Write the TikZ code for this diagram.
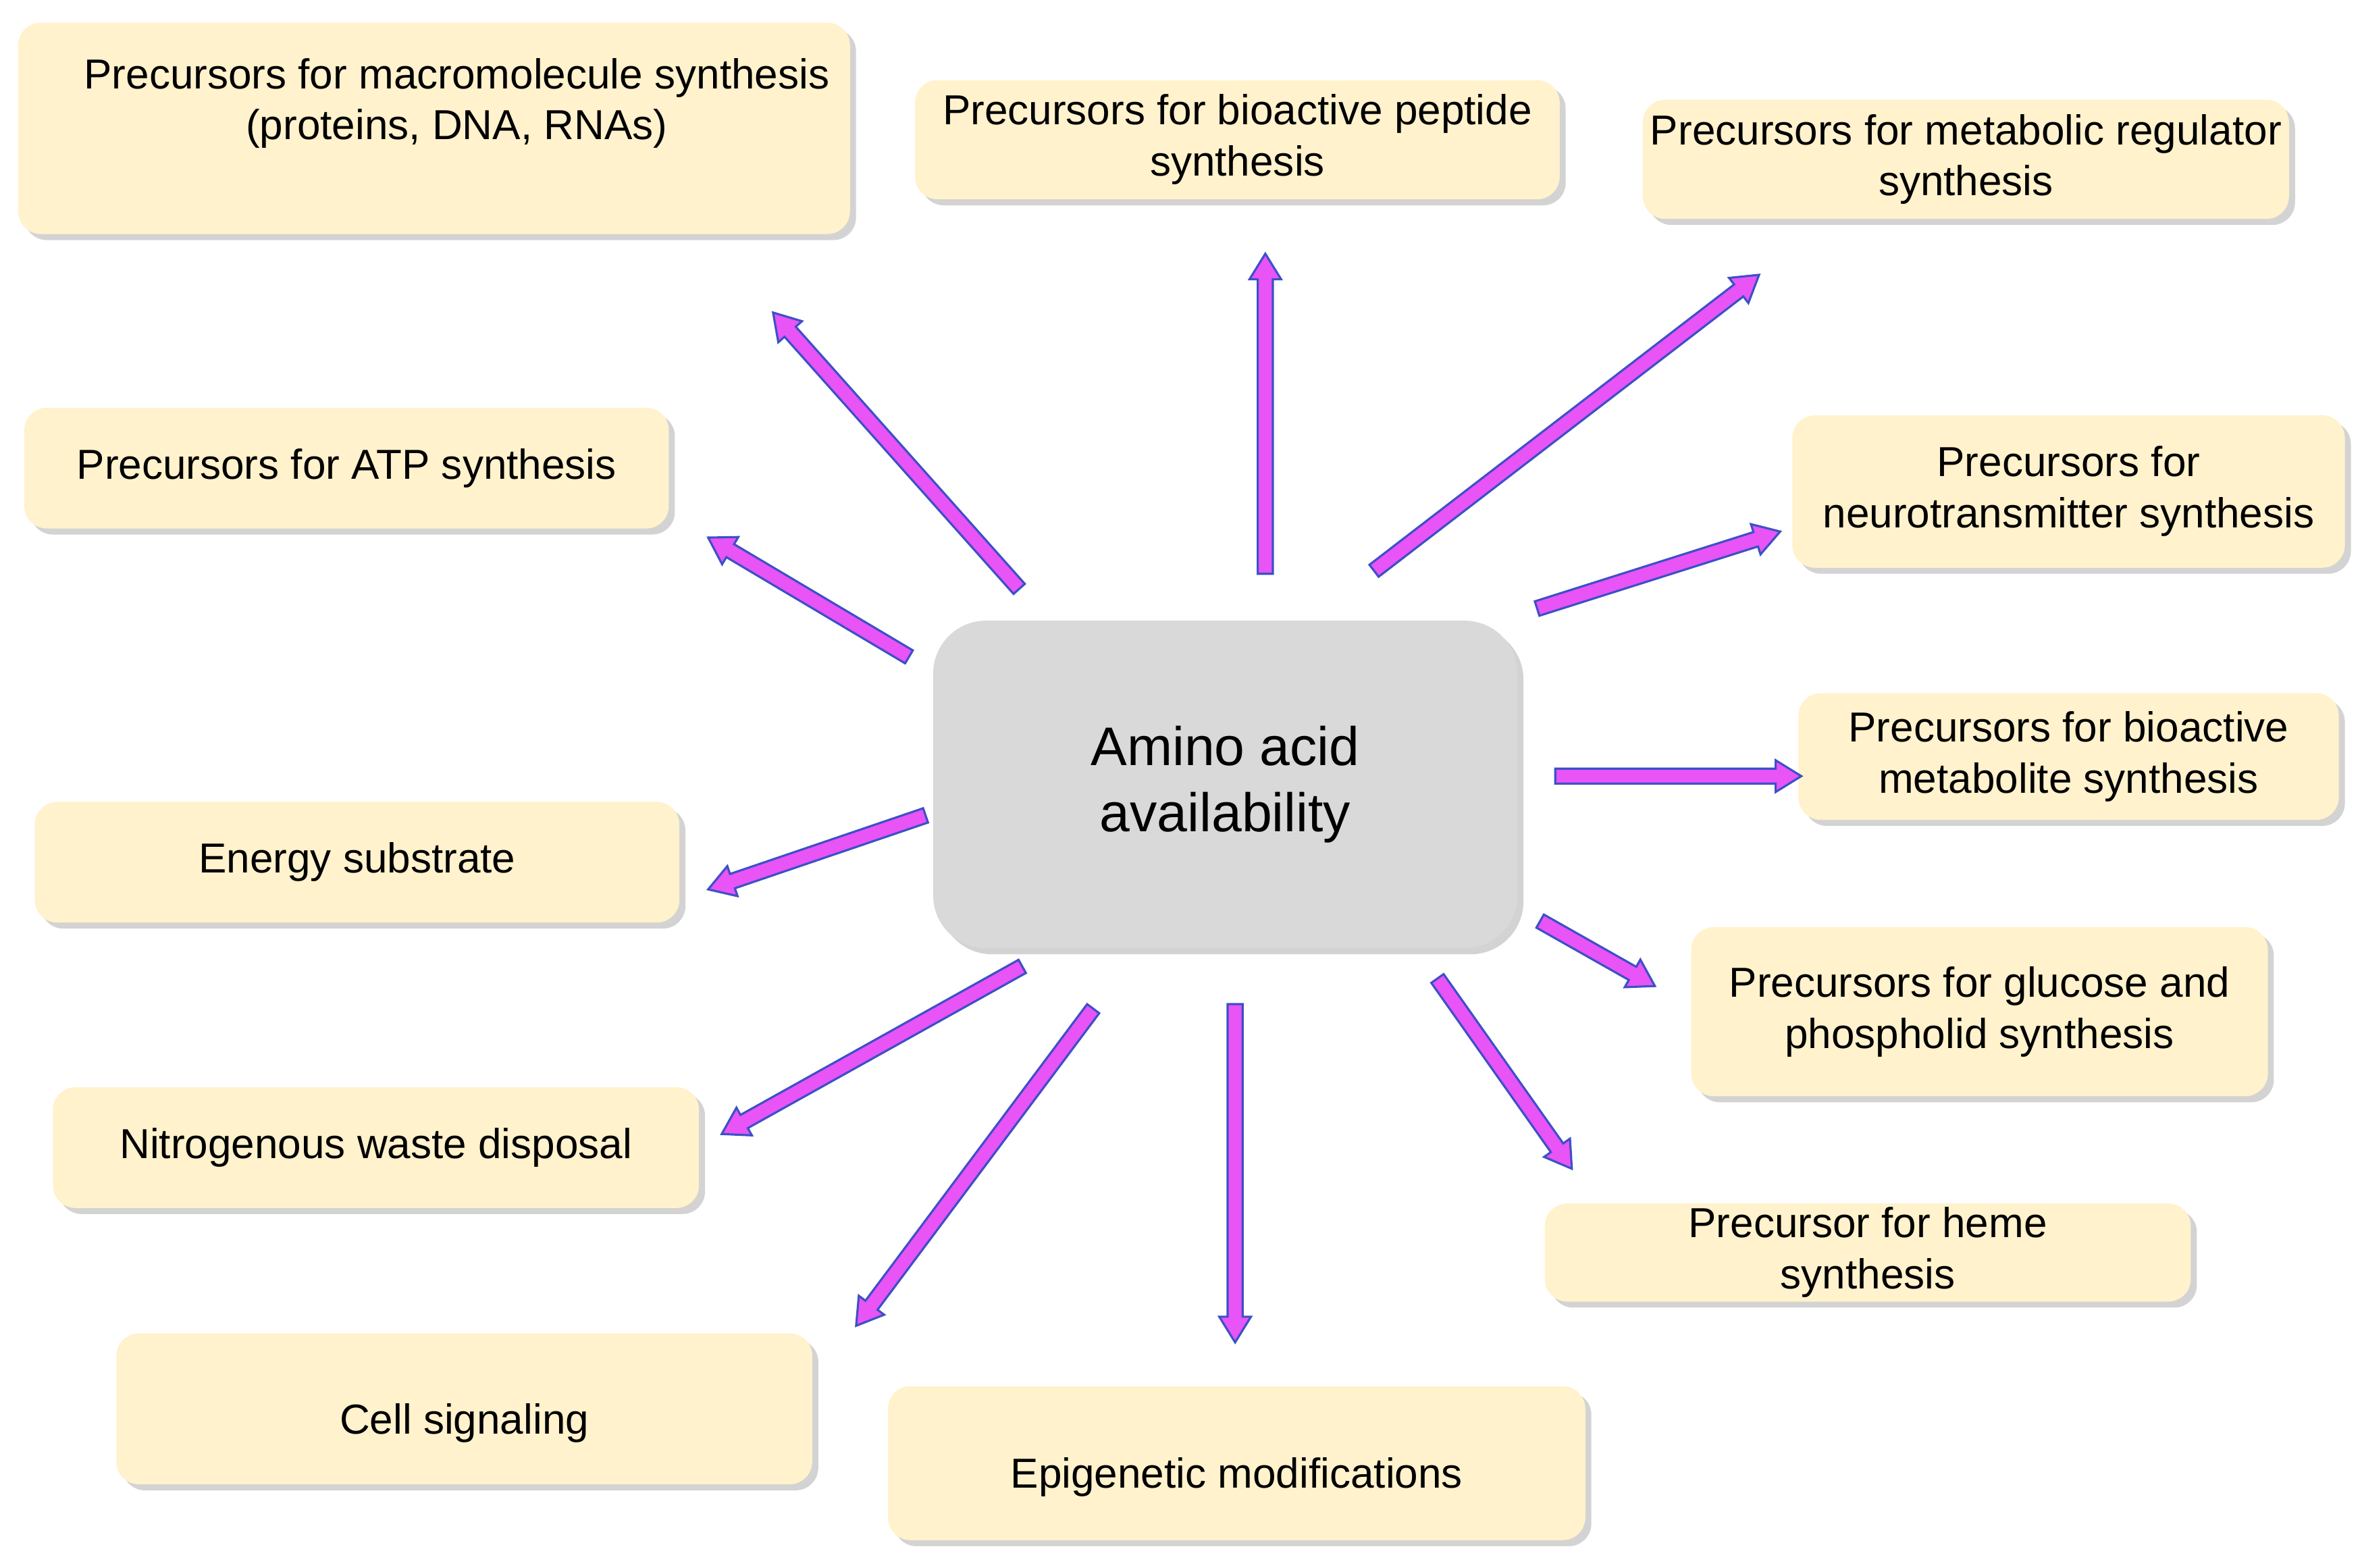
\documentclass[tikz,border=0pt]{standalone}
\usepackage{fontspec}
\setmainfont{Liberation Sans}
\usetikzlibrary{calc,shadows}
\begin{document}
\begin{tikzpicture}[x=0.02cm,y=-0.02cm,
  box/.style={fill={rgb,255:red,255;green,242;blue,204}, rounded corners=0.3cm, drop shadow={opacity=0.35,shadow xshift=0.08cm,shadow yshift=-0.08cm}, align=center, font=\fontsize{15.8}{19.3}\selectfont, inner sep=0pt},
  fat/.style={fill={rgb,255:red,232;green,84;blue,245}, draw={rgb,255:red,60;green,80;blue,200}, line width=0.8pt, line join=miter}]
\useasboundingbox (0,0) rectangle (1563,1038);
\newcommand{\fatarrow}[2]{%
  \coordinate (h) at ($(#2)!0.34cm!(#1)$);
  \path[fat] ($(#1)!0.1cm!90:(#2)$) -- ($(h)!0.1cm!90:(#2)$) -- ($(h)!0.21cm!90:(#2)$) -- (#2) -- ($(h)!0.21cm!-90:(#2)$) -- ($(h)!0.1cm!-90:(#2)$) -- ($(#1)!0.1cm!-90:(#2)$) -- cycle;}
% boxes
\node[box, minimum width=11.02cm, minimum height=2.8cm] (mac) at (287.5,85) {\hspace*{0.6cm}Precursors for macromolecule synthesis\\\hspace*{0.6cm}(proteins, DNA, RNAs)\\[0.1cm]};
\node[box, minimum width=8.54cm, minimum height=1.58cm] (pep) at (819.5,92.5) {Precursors for bioactive peptide\\synthesis};
\node[box, minimum width=8.56cm, minimum height=1.58cm] (reg) at (1302,105.5) {Precursors for metabolic regulator\\synthesis};
\node[box, minimum width=8.54cm, minimum height=1.6cm] (atp) at (229.5,310) {Precursors for ATP synthesis};
\node[box, minimum width=7.32cm, minimum height=2.02cm] (neu) at (1370,325.5) {Precursors for\\neurotransmitter synthesis};
\node[box, minimum width=7.16cm, minimum height=1.68cm] (met) at (1370,501) {Precursors for bioactive\\metabolite synthesis};
\node[box, minimum width=8.54cm, minimum height=1.6cm] (ene) at (236.5,571) {Energy substrate};
\node[box, minimum width=7.64cm, minimum height=2.24cm] (glu) at (1311,670) {Precursors for glucose and\\phospholid synthesis};
\node[box, minimum width=8.56cm, minimum height=1.6cm] (nit) at (249,760) {Nitrogenous waste disposal};
\node[box, minimum width=8.56cm, minimum height=1.3cm] (hem) at (1237,829.5) {Precursor for heme\\synthesis};
\node[box, minimum width=9.22cm, minimum height=2cm] (cel) at (307.5,933) {\\[0.1cm]Cell signaling};
\node[box, minimum width=9.24cm, minimum height=2.04cm] (epi) at (819,969) {\\[0.1cm]Epigenetic modifications};
\node[fill={rgb,255:red,217;green,217;blue,217}, rounded corners=0.7cm, minimum width=7.74cm, minimum height=4.34cm, align=center, font=\fontsize{20.5}{25}\selectfont, drop shadow={opacity=0.35,shadow xshift=0.08cm,shadow yshift=-0.08cm}] (c) at (811.5,519.5) {Amino acid\\availability};
% arrows
\coordinate (s1) at (675,390); \coordinate (e1) at (512,207);
\coordinate (s2) at (838,380); \coordinate (e2) at (838,168);
\coordinate (s3) at (910,378); \coordinate (e3) at (1165,182);
\coordinate (s4) at (1018,403); \coordinate (e4) at (1179,352);
\coordinate (s5) at (1030,514); \coordinate (e5) at (1193,514);
\coordinate (s6) at (1020,610); \coordinate (e6) at (1096,653);
\coordinate (s7) at (952,648); \coordinate (e7) at (1041,774);
\coordinate (s8) at (818,665); \coordinate (e8) at (818,889);
\coordinate (s9) at (724,668); \coordinate (e9) at (567,878);
\coordinate (s10) at (677,640); \coordinate (e10) at (478,751);
\coordinate (s11) at (613,540); \coordinate (e11) at (469,589);
\coordinate (s12) at (602,435); \coordinate (e12) at (469,356);
\foreach \i in {1,...,12}{\fatarrow{s\i}{e\i}}
\end{tikzpicture}
\end{document}
